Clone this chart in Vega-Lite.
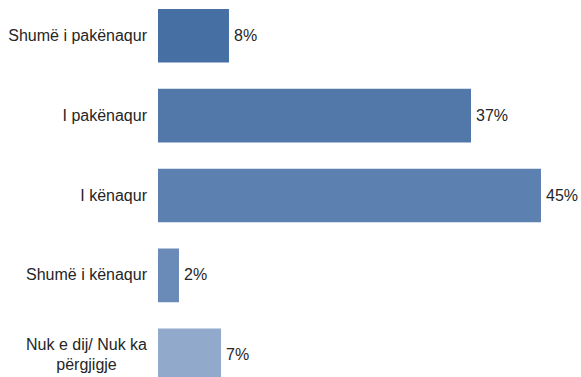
{
  "$schema": "https://vega.github.io/schema/vega-lite/v6.json",
  "width": 423,
  "height": 377,
  "autosize": "none",
  "padding": {"left": 158, "top": 0, "right": 0, "bottom": 0},
  "background": "white",
  "config": {"view": {"stroke": null}, "font": "Liberation Sans"},
  "data": {"values": [
    {"cat": "Shumë i pakënaqur", "line1": "Shumë i pakënaqur", "line2": "", "value": 8.39, "label": "8%"},
    {"cat": "I pakënaqur", "line1": "I pakënaqur", "line2": "", "value": 37.0, "label": "37%"},
    {"cat": "I kënaqur", "line1": "I kënaqur", "line2": "", "value": 45.27, "label": "45%"},
    {"cat": "Shumë i kënaqur", "line1": "Shumë i kënaqur", "line2": "", "value": 2.48, "label": "2%"},
    {"cat": "Nuk e dij/ Nuk ka përgjigje", "line1": "Nuk e dij/ Nuk ka", "line2": "përgjigje", "value": 7.45, "label": "7%"}
  ]},
  "encoding": {
    "y": {"field": "cat", "type": "nominal", "sort": null, "axis": null,
          "scale": {"range": [9, 382], "paddingInner": 0.33, "paddingOuter": 0}}
  },
  "layer": [
    {
      "mark": {"type": "bar"},
      "encoding": {
        "x": {"field": "value", "type": "quantitative", "axis": null, "scale": {"domain": [0, 50]}},
        "color": {"field": "cat", "type": "nominal", "legend": null,
          "scale": {"domain": ["Shumë i pakënaqur", "I pakënaqur", "I kënaqur", "Shumë i kënaqur", "Nuk e dij/ Nuk ka përgjigje"],
                    "range": ["#4670a4", "#5278aa", "#5c80b0", "#6a8bb8", "#91aacb"]}}
      }
    },
    {
      "mark": {"type": "text", "align": "left", "baseline": "middle", "dx": 5, "fontSize": 16, "color": "#262626"},
      "encoding": {
        "x": {"field": "value", "type": "quantitative"},
        "text": {"field": "label"}
      }
    },
    {
      "transform": [{"filter": "datum.line2 == ''"}],
      "mark": {"type": "text", "align": "right", "baseline": "middle", "dx": -11, "fontSize": 16, "color": "#262626"},
      "encoding": {
        "x": {"datum": 0},
        "text": {"field": "line1"}
      }
    },
    {
      "transform": [{"filter": "datum.line2 != ''"}, {"calculate": "[datum.line1, datum.line2]", "as": "lines"}],
      "mark": {"type": "text", "align": "center", "baseline": "middle", "dx": -71.5, "dy": -10, "lineHeight": 20, "fontSize": 16, "color": "#262626"},
      "encoding": {
        "x": {"datum": 0},
        "text": {"field": "lines"}
      }
    }
  ]
}
